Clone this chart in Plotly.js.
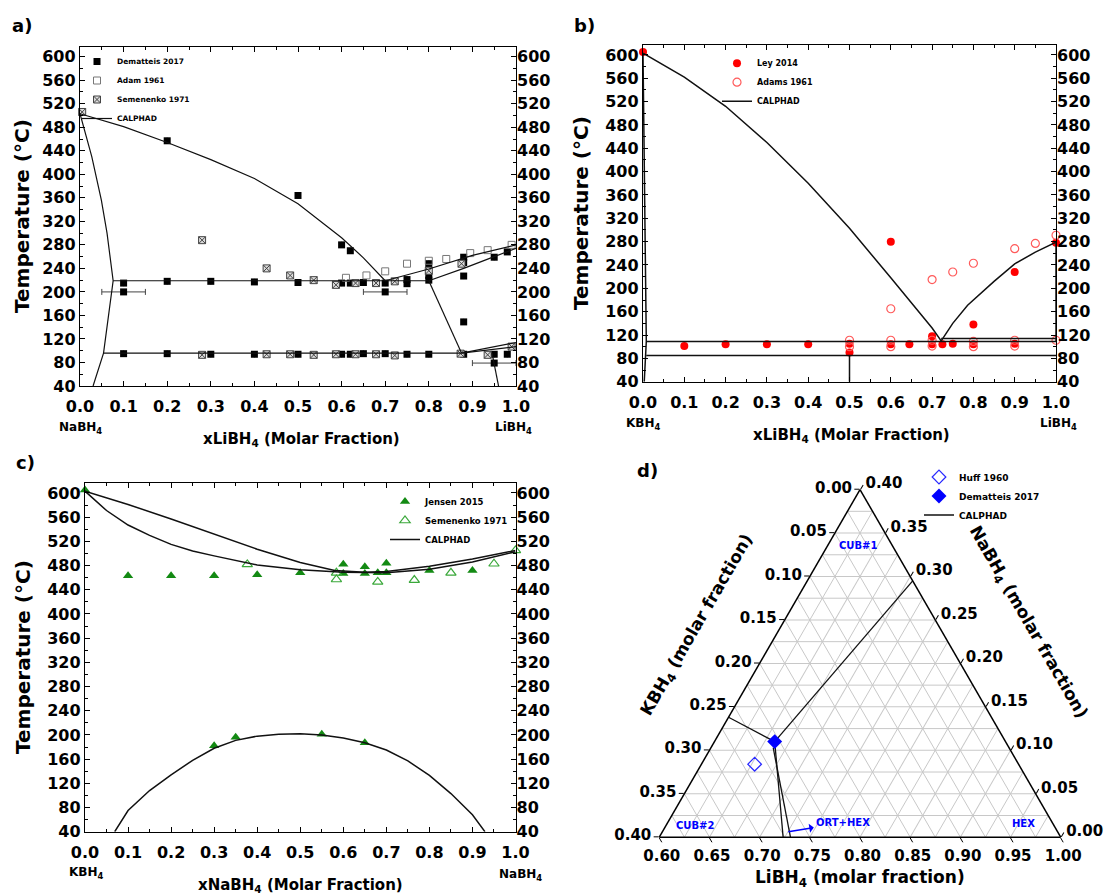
<!DOCTYPE html>
<html><head><meta charset="utf-8">
<script src="https://cdn.plot.ly/plotly-3.0.1.min.js"></script>
<style>html,body{margin:0;padding:0;background:#fff}#chart{width:1108px;height:895px}</style>
</head><body><div id="chart"></div>
<script>
// ---------------- tick labels ----------------
const x_tick_vals = [0, 0.1, 0.2, 0.3, 0.4, 0.5, 0.6, 0.7, 0.8, 0.9, 1.0];
const x_tick_text = ['0.0','0.1','0.2','0.3','0.4','0.5','0.6','0.7','0.8','0.9','1.0'];
const y_tick_vals = [40, 80, 120, 160, 200, 240, 280, 320, 360, 400, 440, 480, 520, 560, 600];
const y_tick_text = ['40','80','120','160','200','240','280','320','360','400','440','480','520','560','600'];

// ---------------- panel a: NaBH4 - LiBH4 ----------------
const a_dem_x = [0.1,0.1,0.1, 0.2,0.2,0.2, 0.3,0.3, 0.4,0.4, 0.5,0.5,0.5, 0.6,0.6,0.6, 0.62,0.62,0.62, 0.65,0.65, 0.7,0.7,0.7, 0.75,0.75,0.75, 0.8,0.8,0.8,0.8, 0.88,0.88,0.88,0.88,0.88, 0.95,0.95,0.95, 0.98,0.98];
const a_dem_T = [215,200,95, 457,218,95, 218,94, 217,94, 364,216,94, 280,215,94, 270,215,94, 216,95, 215,200,95, 221,214,94, 248,228,220,94, 259,250,227,149,94, 259,94,79, 268,94];
const a_dem_err = [null,0.05,null, null,null,null, null,null, null,null, null,null,null, null,null,null, null,null,null, null,null, null,0.05,null, null,null,null, null,null,null,null, null,null,null,null,null, null,null,0.05, null,null];
const a_adam_x = [0.61, 0.657, 0.70, 0.75, 0.80, 0.84, 0.895, 0.935, 0.99];
const a_adam_T = [224, 228, 235, 248, 253, 256, 266, 271, 280];
const a_sem_x = [0.005, 0.28, 0.428, 0.482, 0.536, 0.587, 0.632, 0.679, 0.722, 0.80, 0.875, 0.28, 0.428, 0.482, 0.536, 0.587, 0.632, 0.679, 0.722, 0.873, 0.935, 0.99];
const a_sem_T = [506, 288, 240, 228, 220, 212, 215, 215, 218, 236, 248, 93, 94, 94, 93, 94, 94, 94, 92, 95, 93, 107];
const a_liq_x = [0, 0.1, 0.2, 0.3, 0.4, 0.5, 0.6, 0.65, 0.7];
const a_liq_T = [503, 481, 454, 425, 393, 350, 292, 258, 219];
const a_sol_x = [0, 0.027, 0.049, 0.062, 0.076, 0.054, 0.03];
const a_sol_T = [503, 430, 356, 300, 219, 96, 40];
const a_eut1_x = [0.076, 0.8], a_eut1_T = [219, 219];
const a_eut2_x = [0.054, 0.875], a_eut2_T = [96, 96];
const a_liqR_x = [0.7, 0.8, 0.9, 1.0], a_liqR_T = [219, 239, 262, 280];
const a_solR_x = [0.8, 0.88, 0.95, 1.0], a_solR_T = [219, 240, 260, 274];
const a_solv_x = [0.8, 0.875], a_solv_T = [219, 96];
const a_hexU_x = [0.875, 1.0], a_hexU_T = [96, 114];
const a_hexL_x = [0.875, 1.0], a_hexL_T = [96, 107];
const a_ort_x = [0.945, 0.96], a_ort_T = [96, 40];

// ---------------- panel b: KBH4 - LiBH4 ----------------
const b_ley_x = [0, 0.1, 0.2, 0.3, 0.4, 0.5, 0.5, 0.6, 0.6, 0.645, 0.7, 0.7, 0.725, 0.75, 0.8, 0.8, 0.9, 0.9, 1.0];
const b_ley_T = [605, 101, 104, 104, 104, 105, 90, 280, 104, 104, 118, 104, 104, 105, 138, 104, 228, 105, 278];
const b_adams_x = [0.5, 0.5, 0.6, 0.6, 0.6, 0.7, 0.7, 0.7, 0.75, 0.8, 0.8, 0.8, 0.9, 0.9, 0.9, 0.95, 1.0, 1.0];
const b_adams_T = [111, 100, 165, 111, 100, 215, 111, 101, 228, 243, 109, 100, 268, 111, 101, 277, 291, 111];
const b_liqL_x = [0, 0.05, 0.1, 0.2, 0.3, 0.4, 0.5, 0.6, 0.65, 0.7, 0.722];
const b_liqL_T = [603, 582, 562, 512, 450, 380, 303, 218, 176, 132, 110];
const b_liqR_x = [0.722, 0.75, 0.786, 0.85, 0.9, 0.95, 1.0];
const b_liqR_T = [110, 140, 171, 212, 242, 262, 279];
const b_eut_x = [0.008, 1.0], b_eut_T = [109, 109];
const b_eut2_x = [0.722, 1.0], b_eut2_T = [114, 114];
const b_low_x = [0.008, 1.0], b_low_T = [85, 85];
const b_vert_x = [0.5, 0.5], b_vert_T = [85, 40];
const b_left_x = [0, 0.004, 0.008, 0.003], b_left_T = [603, 350, 109, 40];
const b_right_x = [1.0, 1.0], b_right_T = [279, 109];

// ---------------- panel c: KBH4 - NaBH4 ----------------
const c_jen_x = [0, 0.1, 0.2, 0.3, 0.4, 0.5, 0.6, 0.6, 0.65, 0.65, 0.68, 0.7, 0.7, 0.8, 0.9, 0.3, 0.35, 0.55, 0.65];
const c_jen_T = [605, 463, 463, 463, 465, 468, 482, 467, 478, 467, 468, 484, 468, 472, 472, 182, 196, 201, 187];
const c_sem_x = [0.377, 0.584, 0.584, 0.68, 0.765, 0.85, 0.95, 1.0];
const c_sem_T = [482, 468, 457, 453, 456, 468, 483, 505];
const c_liq_x = [0, 0.1, 0.2, 0.3, 0.4, 0.5, 0.58, 0.65, 0.7, 0.8, 0.9, 1.0];
const c_liq_T = [603, 581, 557, 532, 507, 485, 472, 469, 470, 479, 491, 505];
const c_sol_x = [0, 0.05, 0.1, 0.15, 0.2, 0.25, 0.3, 0.35, 0.4, 0.5, 0.6, 0.7, 0.8, 0.9, 1.0];
const c_sol_T = [603, 571, 547, 530, 515, 504, 496, 488, 481, 473, 469, 468, 474, 486, 503];
const c_gap_x = [0.069, 0.1, 0.15, 0.2, 0.25, 0.3, 0.35, 0.4, 0.45, 0.5, 0.55, 0.6, 0.65, 0.7, 0.75, 0.8, 0.85, 0.9, 0.929];
const c_gap_T = [40, 75, 108, 134, 158, 178, 191, 198, 201, 202, 200, 195, 187, 175, 157, 133, 103, 68, 40];

// ---------------- panel d: ternary LiBH4 - NaBH4 - KBH4 ----------------
const t_huff_li = [0.653], t_huff_na = [0.084], t_huff_k = [0.263];
const t_dem_li = [0.66], t_dem_na = [0.11], t_dem_k = [0.23];
const t_l1_li = [0.66, 0.705], t_l1_na = [0.11, 0.295], t_l1_k = [0.23, 0.0];
const t_l2_li = [0.66, 0.60], t_l2_na = [0.11, 0.138], t_l2_k = [0.23, 0.262];
const t_l3_li = [0.66, 0.7234], t_l3_na = [0.11, 0.0], t_l3_k = [0.23, 0.2766];
const t_l4_li = [0.662, 0.7307], t_l4_na = [0.103, 0.0], t_l4_k = [0.235, 0.2693];
const t_na_vals = [0, 0.05, 0.1, 0.15, 0.2, 0.25, 0.3, 0.35, 0.4];
const t_k_vals  = [0, 0.05, 0.1, 0.15, 0.2, 0.25, 0.3, 0.35, 0.4];
const t_li_vals = [0.6, 0.65, 0.7, 0.75, 0.8, 0.85, 0.9, 0.95, 1.0];
const t_minor_grid = [0.025, 0.075, 0.125, 0.175, 0.225, 0.275, 0.325, 0.375];
// labels shown along each edge (KBH4 on left, LiBH4 on bottom, NaBH4 on right)
const t_left_labels   = ['0.40','0.35','0.30','0.25','0.20','0.15','0.10','0.05','0.00'];
const t_bottom_labels = ['1.00','0.95','0.90','0.85','0.80','0.75','0.70','0.65','0.60'];
const t_right_labels  = ['0.40','0.35','0.30','0.25','0.20','0.15','0.10','0.05','0.00'];

// ---------------- helpers ----------------
const W = 1108, H = 895;
const px = v => v / W;
const py = v => 1 - v / H;
const FAM = 'DejaVu Sans';
function F(size, color) { return {family: FAM, size: size, weight: 'bold', color: color || '#000'}; }

const traces = [];
function calphad(segs, xa, ya, legend, width) {
  segs.forEach((s, i) => traces.push({
    type: 'scatter', mode: 'lines', x: s[0], y: s[1], xaxis: xa, yaxis: ya,
    line: {color: '#111', width: width}, name: 'CALPHAD', legend: legend,
    legendgroup: legend + 'cal', showlegend: i === 0, cliponaxis: true, hoverinfo: 'skip'
  }));
}

// panel a traces
traces.push({type:'scatter', mode:'markers', x:a_dem_x, y:a_dem_T, xaxis:'x', yaxis:'y', name:'Dematteis 2017', legend:'legend',
  marker:{symbol:'square', size:7, color:'#000'},
  error_x:{type:'data', array:a_dem_err, symmetric:true, color:'#444', thickness:1, width:3}, cliponaxis:false});
traces.push({type:'scatter', mode:'markers', x:a_adam_x, y:a_adam_T, xaxis:'x', yaxis:'y', name:'Adam 1961', legend:'legend',
  marker:{symbol:'square-open', size:7, color:'#777', line:{width:1}}, cliponaxis:false});
traces.push({type:'scatter', mode:'markers', x:a_sem_x, y:a_sem_T, xaxis:'x', yaxis:'y', name:'Semenenko 1971', legend:'legend',
  marker:{symbol:'square-x', size:7, color:'#dcdcdc', line:{color:'#444', width:1}}, cliponaxis:false});
calphad([[a_liq_x,a_liq_T],[a_sol_x,a_sol_T],[a_eut1_x,a_eut1_T],[a_eut2_x,a_eut2_T],[a_liqR_x,a_liqR_T],
  [a_solR_x,a_solR_T],[a_solv_x,a_solv_T],[a_hexU_x,a_hexU_T],[a_hexL_x,a_hexL_T],[a_ort_x,a_ort_T]], 'x', 'y', 'legend', 1.2);

// panel b traces
traces.push({type:'scatter', mode:'markers', x:b_ley_x, y:b_ley_T, xaxis:'x2', yaxis:'y2', name:'Ley 2014', legend:'legend2',
  marker:{symbol:'circle', size:8, color:'#ff0000'}, cliponaxis:false});
traces.push({type:'scatter', mode:'markers', x:b_adams_x, y:b_adams_T, xaxis:'x2', yaxis:'y2', name:'Adams 1961', legend:'legend2',
  marker:{symbol:'circle-open', size:8, color:'#ff5a5a', line:{width:1.2}}, cliponaxis:false});
calphad([[b_liqL_x,b_liqL_T],[b_liqR_x,b_liqR_T],[b_eut_x,b_eut_T],[b_eut2_x,b_eut2_T],[b_low_x,b_low_T],
  [b_vert_x,b_vert_T],[b_left_x,b_left_T],[b_right_x,b_right_T]], 'x2', 'y2', 'legend2', 1.5);

// panel c traces
traces.push({type:'scatter', mode:'markers', x:c_jen_x, y:c_jen_T, xaxis:'x3', yaxis:'y3', name:'Jensen 2015', legend:'legend3',
  marker:{symbol:'triangle-up', size:9, color:'#138a13'}, cliponaxis:false});
traces.push({type:'scatter', mode:'markers', x:c_sem_x, y:c_sem_T, xaxis:'x3', yaxis:'y3', name:'Semenenko 1971', legend:'legend3',
  marker:{symbol:'triangle-up-open', size:9, color:'#3aa83a', line:{width:1.2}}, cliponaxis:false});
calphad([[c_liq_x,c_liq_T],[c_sol_x,c_sol_T],[c_gap_x,c_gap_T]], 'x3', 'y3', 'legend3', 1.5);

// right-hand axes (labels only)
['y4','y5','y6'].forEach((ya, i) => traces.push({type:'scatter', x:[], y:[], xaxis:['x','x2','x3'][i], yaxis:ya, showlegend:false, hoverinfo:'skip'}));

// panel d: intermediate (0.025) grid lines of the ternary grid
(function () {
  const ga = [], gb = [], gc = [];
  t_minor_grid.forEach(m => {
    ga.push(m, m, null); gb.push(0, 0.4 - m, null); gc.push(1 - m, 0.6, null);          // constant NaBH4
    ga.push(0, 0.4 - m, null); gb.push(m, m, null); gc.push(1 - m, 0.6, null);          // constant KBH4
    ga.push(0, 0.4 - m, null); gb.push(0.4 - m, 0, null); gc.push(0.6 + m, 0.6 + m, null); // constant LiBH4
  });
  traces.push({type:'scatterternary', mode:'lines', a:ga, b:gb, c:gc, showlegend:false, hoverinfo:'skip',
    line:{color:'#c8c8c8', width:1}, connectgaps:false});
})();
[[t_l1_na,t_l1_k,t_l1_li],[t_l2_na,t_l2_k,t_l2_li],[t_l3_na,t_l3_k,t_l3_li],[t_l4_na,t_l4_k,t_l4_li]].forEach((s, i) =>
  traces.push({type:'scatterternary', mode:'lines', a:s[0], b:s[1], c:s[2], name:'CALPHAD', legend:'legend4', legendrank: 3,
    legendgroup:'dcal', showlegend:i === 0, line:{color:'#111', width:1.3}, hoverinfo:'skip'}));
traces.push({type:'scatterternary', mode:'markers', a:t_huff_na, b:t_huff_k, c:t_huff_li, name:'Huff 1960', legend:'legend4', legendrank: 1,
  marker:{symbol:'diamond-open', size:10.5, color:'#2a2aff', line:{width:1.2}}, cliponaxis:false});
traces.push({type:'scatterternary', mode:'markers', a:t_dem_na, b:t_dem_k, c:t_dem_li, name:'Dematteis 2017', legend:'legend4', legendrank: 2,
  marker:{symbol:'diamond', size:11.5, color:'#0000ff'}, cliponaxis:false});

// ---------------- layout ----------------
function xAxis(dom, anchor) {
  return {domain: dom, anchor: anchor, range: [0, 1], tickmode: 'array', tickvals: x_tick_vals, ticktext: x_tick_text,
    ticks: 'inside', ticklen: 5, tickwidth: 1, tickcolor: '#000', ticklabelstandoff: 6,
    minor: {tickmode: 'linear', tick0: 0, dtick: 0.05, ticks: 'inside', ticklen: 3, tickcolor: '#000'},
    showline: true, mirror: 'ticks', linecolor: '#000', linewidth: 1.2, showgrid: false, zeroline: false, tickfont: F(16)};
}
function yAxis(dom, anchor) {
  return {domain: dom, anchor: anchor, range: [40, 617], tickmode: 'array', tickvals: y_tick_vals, ticktext: y_tick_text,
    ticks: 'inside', ticklen: 5, tickwidth: 1, tickcolor: '#000',
    minor: {tickmode: 'linear', tick0: 40, dtick: 20, ticks: 'inside', ticklen: 3, tickcolor: '#000'},
    showline: true, mirror: 'ticks', linecolor: '#000', linewidth: 1.2, showgrid: false, zeroline: false, tickfont: F(16)};
}
function yRight(over, anchor) {
  return {overlaying: over, anchor: anchor, side: 'right', range: [40, 617], tickmode: 'array', tickvals: y_tick_vals, ticktext: y_tick_text,
    ticks: '', showline: false, showgrid: false, zeroline: false, tickfont: F(16)};
}
function tAxis(vals, text, min) {
  return {min: min, tickmode: 'array', tickvals: vals, ticktext: text, ticks: 'outside', ticklen: 5, tickwidth: 1, tickcolor: '#000',
    showline: true, linecolor: '#000', linewidth: 1.5, showgrid: true, gridcolor: '#c8c8c8', gridwidth: 1,
    tickfont: F(15), title: {text: ''}};
}
function leg(x, y, size) {
  return {x: px(x), y: py(y), xanchor: 'left', yanchor: 'top', bgcolor: 'rgba(0,0,0,0)', borderwidth: 0,
    font: F(size), itemwidth: 30, tracegroupgap: 0};
}
function ann(text, x, y, size, opts) {
  return Object.assign({text: text, x: px(x), y: py(y), xref: 'paper', yref: 'paper', showarrow: false,
    xanchor: 'center', yanchor: 'middle', font: F(size)}, opts || {});
}

const layout = {
  width: W, height: H, margin: {l: 0, r: 0, t: 0, b: 0},
  paper_bgcolor: '#fff', plot_bgcolor: '#fff', hovermode: false,
  xaxis: xAxis([px(80), px(516)], 'y'),
  yaxis: yAxis([py(386), py(46.7)], 'x'),
  xaxis2: xAxis([px(643), px(1056)], 'y2'),
  yaxis2: yAxis([py(381.7), py(45)], 'x2'),
  xaxis3: xAxis([px(85), px(515.5)], 'y3'),
  yaxis3: yAxis([py(831.7), py(482.7)], 'x3'),
  yaxis4: yRight('y', 'x'),
  yaxis5: yRight('y2', 'x2'),
  yaxis6: yRight('y3', 'x3'),
  ternary: {
    domain: {x: [px(659.3), px(1060.7)], y: [py(837.5), py(489.3)]},
    sum: 1, bgcolor: '#fff',
    aaxis: tAxis(t_na_vals, t_left_labels, 0),
    baxis: tAxis(t_k_vals, t_bottom_labels, 0),
    caxis: tAxis(t_li_vals, t_right_labels, 0.6)
  },
  legend: leg(77, 47, 7.5),
  legend2: leg(717, 48.7, 8),
  legend3: leg(385, 487, 8.5),
  legend4: leg(919, 462.5, 9),
  annotations: [
    ann('a)', 22, 25, 18), ann('b)', 584, 26, 18), ann('c)', 25, 463, 18), ann('d)', 647, 471, 18),
    ann('Temperature (°C)', 22, 216, 20, {textangle: -90}),
    ann('Temperature (°C)', 581, 213, 20, {textangle: -90}),
    ann('Temperature (°C)', 23, 657, 20, {textangle: -90}),
    ann('xLiBH<sub>4</sub> (Molar Fraction)', 301, 440, 15),
    ann('xLiBH<sub>4</sub> (Molar Fraction)', 851, 435, 15),
    ann('xNaBH<sub>4</sub> (Molar Fraction)', 300, 885, 15),
    ann('NaBH<sub>4</sub>', 80, 428, 12), ann('LiBH<sub>4</sub>', 513, 428, 12),
    ann('KBH<sub>4</sub>', 643, 424, 12), ann('LiBH<sub>4</sub>', 1058, 424, 12),
    ann('KBH<sub>4</sub>', 86, 873, 12), ann('NaBH<sub>4</sub>', 520, 875, 12),
    ann('KBH<sub>4</sub> (molar fraction)', 697, 625, 17, {textangle: -60}),
    ann('NaBH<sub>4</sub> (molar fraction)', 1028, 622, 17, {textangle: 60}),
    ann('LiBH<sub>4</sub> (molar fraction)', 860, 878, 17),
    ann('CUB#1', 858, 545, 10, {font: F(10, '#0000ff')}),
    ann('CUB#2', 695, 825, 10, {font: F(10, '#0000ff')}),
    ann('HEX', 1023, 823, 10, {font: F(10, '#0000ff')}),
    {text: 'ORT+HEX', x: px(788.3), y: py(831.7), xref: 'paper', yref: 'paper', showarrow: true,
     ax: 55, ay: -9, axref: 'pixel', ayref: 'pixel', arrowside: 'start', arrowhead: 2, arrowsize: 1, arrowwidth: 1.5,
     arrowcolor: '#0000ff', standoff: 0, startstandoff: 1, font: F(10, '#0000ff')}
  ]
};

Plotly.newPlot('chart', traces, layout, {staticPlot: true, displayModeBar: false});
</script>
</body></html>
